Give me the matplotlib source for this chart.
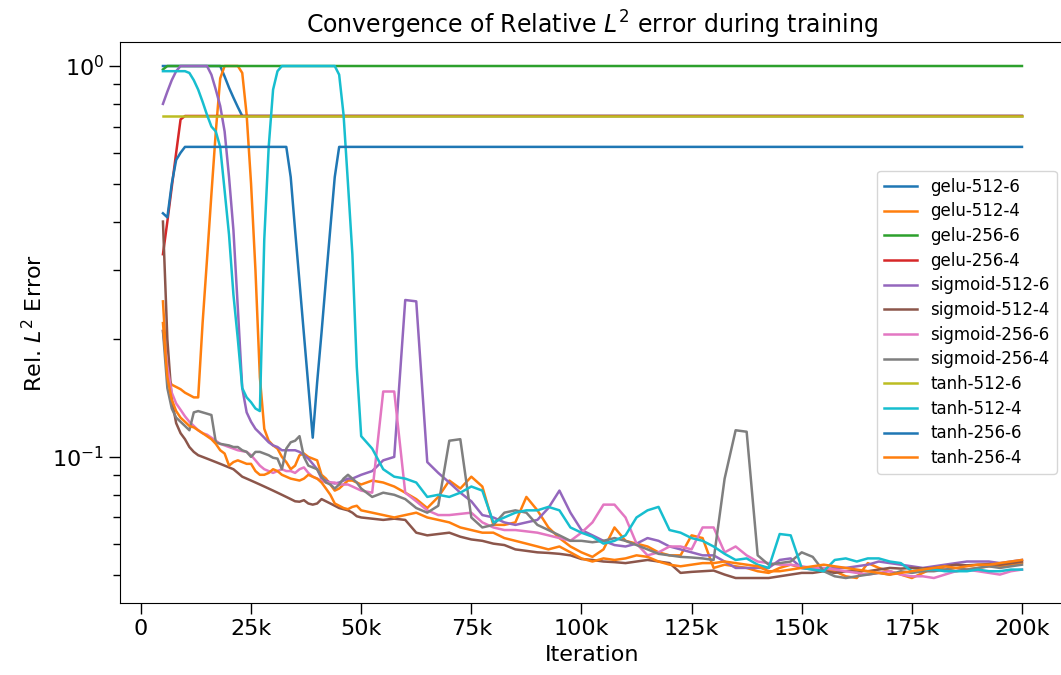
import numpy as np
import matplotlib
matplotlib.use("Agg")
import matplotlib.pyplot as plt
from matplotlib.ticker import FuncFormatter

# iterations: every 1k up to 50k, then every 2.5k
iters = np.concatenate([np.arange(5000, 50001, 1000), np.arange(52500, 200001, 2500)])

labels = ["gelu-512-6", "gelu-512-4", "gelu-256-6", "gelu-256-4",
          "sigmoid-512-6", "sigmoid-512-4", "sigmoid-256-6", "sigmoid-256-4",
          "tanh-512-6", "tanh-512-4", "tanh-256-6", "tanh-256-4"]

# --- gelu ---
gelu_512_6 = [1.0] * 14 + [0.94, 0.88, 0.83, 0.785, 0.745] + [0.745] * 27 + [0.745] * 60

gelu_512_4_early = [0.25, 0.16, 0.153, 0.151, 0.149, 0.146, 0.144, 0.142, 0.142, 0.22,
                    0.32, 0.47, 0.68, 0.93, 1.0, 1.0, 1.0, 1.0, 0.96, 0.75,
                    0.50, 0.30, 0.16, 0.118, 0.11, 0.107, 0.105, 0.10, 0.097, 0.093,
                    0.095, 0.101, 0.102, 0.10, 0.099, 0.098, 0.09, 0.088, 0.085, 0.082,
                    0.083, 0.085, 0.087, 0.087, 0.086, 0.085]
gelu_512_4_late = [0.087, 0.086, 0.084, 0.081, 0.078, 0.074, 0.079, 0.087, 0.083, 0.089,
                   0.084, 0.067, 0.067, 0.068, 0.079, 0.073, 0.066, 0.062, 0.059, 0.057,
                   0.0555, 0.058, 0.066, 0.061, 0.060, 0.059, 0.057, 0.056, 0.056, 0.063,
                   0.062, 0.052, 0.053, 0.0525, 0.052, 0.051, 0.0505, 0.052, 0.053, 0.052,
                   0.052, 0.0515, 0.051, 0.0495, 0.049, 0.0535, 0.052, 0.051, 0.050, 0.049,
                   0.0505, 0.052, 0.0515, 0.051, 0.0515, 0.052, 0.0525, 0.0525, 0.053, 0.0535]

gelu_256_6 = [0.98] + [1.0] * 45 + [1.0] * 60

gelu_256_4 = [0.33, 0.40, 0.49, 0.60, 0.73] + [0.745] * 41 + [0.745] * 60

# --- sigmoid ---
sig_512_6_early = [0.80, 0.86, 0.92, 0.97, 1.0, 1.0, 1.0, 1.0, 1.0, 1.0,
                   1.0, 0.95, 0.87, 0.79, 0.68, 0.52, 0.38, 0.24, 0.15, 0.13,
                   0.123, 0.118, 0.115, 0.112, 0.109, 0.107, 0.106, 0.104, 0.104, 0.104,
                   0.104, 0.103, 0.101, 0.099, 0.096, 0.093, 0.088, 0.087, 0.086, 0.0855,
                   0.086, 0.087, 0.088, 0.088, 0.089, 0.090]
sig_512_6_late = [0.092, 0.098, 0.100, 0.252, 0.25, 0.097, 0.091, 0.086, 0.081, 0.077,
                  0.071, 0.070, 0.068, 0.067, 0.068, 0.069, 0.074, 0.082, 0.072, 0.065,
                  0.063, 0.061, 0.0595, 0.059, 0.060, 0.062, 0.061, 0.059, 0.058, 0.057,
                  0.056, 0.056, 0.054, 0.052, 0.052, 0.052, 0.052, 0.0545, 0.055, 0.052,
                  0.0515, 0.0515, 0.052, 0.052, 0.0525, 0.053, 0.054, 0.0535, 0.053, 0.0525,
                  0.052, 0.0525, 0.053, 0.0535, 0.054, 0.054, 0.054, 0.0535, 0.054, 0.0545]

sig_512_4_early = [0.40, 0.20, 0.14, 0.122, 0.115, 0.111, 0.106, 0.103, 0.101, 0.100,
                   0.099, 0.098, 0.097, 0.096, 0.095, 0.094, 0.093, 0.091, 0.089, 0.088,
                   0.087, 0.086, 0.085, 0.084, 0.083, 0.082, 0.081, 0.080, 0.079, 0.078,
                   0.077, 0.0768, 0.0775, 0.076, 0.0755, 0.076, 0.078, 0.077, 0.076, 0.075,
                   0.074, 0.0735, 0.073, 0.072, 0.0705, 0.070]
sig_512_4_late = [0.0695, 0.069, 0.0695, 0.069, 0.064, 0.063, 0.0635, 0.064, 0.0625, 0.0615,
                  0.061, 0.060, 0.0595, 0.058, 0.0575, 0.057, 0.0568, 0.0565, 0.056, 0.0548,
                  0.0545, 0.054, 0.0538, 0.0535, 0.054, 0.0545, 0.054, 0.0535, 0.0505, 0.0508,
                  0.051, 0.0512, 0.050, 0.049, 0.049, 0.049, 0.049, 0.0495, 0.050, 0.0505,
                  0.0505, 0.051, 0.0505, 0.051, 0.0512, 0.051, 0.0515, 0.052, 0.0518, 0.052,
                  0.0518, 0.052, 0.0525, 0.053, 0.0528, 0.053, 0.0532, 0.053, 0.0535, 0.054]

sig_256_6_early = [0.21, 0.17, 0.146, 0.137, 0.132, 0.127, 0.123, 0.12, 0.117, 0.115,
                   0.114, 0.112, 0.110, 0.108, 0.107, 0.106, 0.105, 0.104, 0.1035, 0.103,
                   0.101, 0.098, 0.095, 0.093, 0.092, 0.091, 0.092, 0.093, 0.092, 0.092,
                   0.091, 0.093, 0.094, 0.091, 0.089, 0.088, 0.087, 0.086, 0.086, 0.086,
                   0.085, 0.085, 0.085, 0.084, 0.083, 0.082]
sig_256_6_late = [0.081, 0.147, 0.147, 0.081, 0.077, 0.073, 0.071, 0.071, 0.0715, 0.072,
                  0.068, 0.066, 0.065, 0.065, 0.0645, 0.064, 0.063, 0.062, 0.061, 0.064,
                  0.068, 0.0755, 0.0755, 0.070, 0.060, 0.056, 0.057, 0.059, 0.059, 0.058,
                  0.066, 0.066, 0.057, 0.059, 0.056, 0.054, 0.0535, 0.053, 0.053, 0.0525,
                  0.052, 0.052, 0.0515, 0.051, 0.0505, 0.050, 0.0505, 0.051, 0.050, 0.0495,
                  0.0495, 0.049, 0.050, 0.051, 0.0515, 0.051, 0.0505, 0.050, 0.051, 0.0515]

sig_256_4_early = [0.21, 0.15, 0.133, 0.126, 0.123, 0.12, 0.117, 0.13, 0.131, 0.13,
                   0.129, 0.128, 0.109, 0.108, 0.1075, 0.107, 0.106, 0.106, 0.104, 0.103,
                   0.100, 0.103, 0.103, 0.102, 0.101, 0.0995, 0.099, 0.093, 0.105, 0.109,
                   0.110, 0.113, 0.100, 0.095, 0.094, 0.093, 0.089, 0.086, 0.085, 0.083,
                   0.085, 0.088, 0.090, 0.088, 0.086, 0.083]
sig_256_4_late = [0.079, 0.081, 0.080, 0.078, 0.074, 0.072, 0.075, 0.110, 0.111, 0.070,
                  0.066, 0.067, 0.072, 0.073, 0.072, 0.067, 0.065, 0.063, 0.061, 0.061,
                  0.0605, 0.061, 0.062, 0.061, 0.0595, 0.058, 0.0565, 0.056, 0.0555, 0.0553,
                  0.055, 0.0545, 0.088, 0.117, 0.116, 0.056, 0.053, 0.0535, 0.054, 0.057,
                  0.0555, 0.051, 0.0495, 0.049, 0.0495, 0.050, 0.0505, 0.050, 0.051, 0.0505,
                  0.051, 0.051, 0.0515, 0.052, 0.0515, 0.052, 0.0525, 0.052, 0.0525, 0.053]

# --- tanh ---
tanh_512_6 = [0.745] * 46 + [0.745] * 60

tanh_512_4_early = [0.97, 0.97, 0.97, 0.97, 0.97, 0.97, 0.96, 0.92, 0.87, 0.81,
                    0.75, 0.70, 0.68, 0.62, 0.48, 0.37, 0.26, 0.20, 0.15, 0.142,
                    0.138, 0.133, 0.131, 0.36, 0.62, 0.87, 0.97, 1.0, 1.0, 1.0,
                    1.0, 1.0, 1.0, 1.0, 1.0, 1.0, 1.0, 1.0, 1.0, 1.0,
                    0.95, 0.75, 0.50, 0.33, 0.17, 0.113]
tanh_512_4_late = [0.105, 0.093, 0.089, 0.088, 0.086, 0.079, 0.080, 0.079, 0.081, 0.084,
                   0.082, 0.068, 0.070, 0.072, 0.073, 0.073, 0.0745, 0.073, 0.066, 0.064,
                   0.0625, 0.060, 0.061, 0.063, 0.070, 0.073, 0.0745, 0.065, 0.064, 0.062,
                   0.061, 0.059, 0.0565, 0.0545, 0.055, 0.053, 0.052, 0.0635, 0.063, 0.052,
                   0.0515, 0.051, 0.0545, 0.055, 0.054, 0.055, 0.055, 0.054, 0.0535, 0.051,
                   0.0515, 0.0515, 0.051, 0.051, 0.051, 0.0515, 0.051, 0.051, 0.0515, 0.0515]

tanh_256_6 = ([0.42, 0.41, 0.50, 0.575, 0.60] + [0.621] * 24
              + [0.52, 0.38, 0.28, 0.206, 0.152, 0.112, 0.155, 0.208, 0.284, 0.385, 0.52]
              + [0.621] * 6 + [0.621] * 60)

tanh_256_4_early = [0.22, 0.16, 0.14, 0.131, 0.126, 0.123, 0.12, 0.119, 0.117, 0.115,
                    0.113, 0.111, 0.108, 0.104, 0.102, 0.095, 0.097, 0.098, 0.097, 0.096,
                    0.096, 0.092, 0.090, 0.090, 0.091, 0.093, 0.092, 0.090, 0.089, 0.088,
                    0.0875, 0.087, 0.088, 0.090, 0.089, 0.088, 0.086, 0.083, 0.080, 0.076,
                    0.075, 0.074, 0.0735, 0.0745, 0.075, 0.073]
tanh_256_4_late = [0.072, 0.071, 0.070, 0.071, 0.072, 0.070, 0.069, 0.068, 0.066, 0.065,
                   0.064, 0.064, 0.062, 0.061, 0.060, 0.059, 0.058, 0.059, 0.057, 0.055,
                   0.054, 0.055, 0.0545, 0.055, 0.056, 0.0555, 0.054, 0.053, 0.0525, 0.053,
                   0.0535, 0.0535, 0.054, 0.0535, 0.053, 0.0525, 0.051, 0.051, 0.0515, 0.052,
                   0.0525, 0.053, 0.0525, 0.052, 0.0515, 0.051, 0.0505, 0.050, 0.0505, 0.051,
                   0.0515, 0.052, 0.0525, 0.052, 0.0525, 0.053, 0.053, 0.0535, 0.054, 0.0545]

series = [gelu_512_6,
          gelu_512_4_early + gelu_512_4_late,
          gelu_256_6,
          gelu_256_4,
          sig_512_6_early + sig_512_6_late,
          sig_512_4_early + sig_512_4_late,
          sig_256_6_early + sig_256_6_late,
          sig_256_4_early + sig_256_4_late,
          tanh_512_6,
          tanh_512_4_early + tanh_512_4_late,
          tanh_256_6,
          tanh_256_4_early + tanh_256_4_late]

colors = ["C0", "C1", "C2", "C3", "C4", "C5", "C6", "C7", "C8", "C9", "C0", "C1"]

fig = plt.figure(figsize=(10.61, 6.75), dpi=100)
ax = fig.add_axes([0.1131, 0.1067, 0.8906, 0.8311])

for lab, vals, c in zip(labels, series, colors):
    assert len(vals) == len(iters), lab
    ax.plot(iters, vals, color=c, lw=1.8, label=lab)

ax.set_yscale("log")
ax.set_xlim(-4750, 209750)
ax.set_ylim(0.0423, 1.152)
ax.set_xticks(np.arange(0, 200001, 25000))
ax.xaxis.set_major_formatter(FuncFormatter(lambda v, p: "0" if v == 0 else "%dk" % (v / 1000)))

ax.tick_params(axis="both", which="major", labelsize=16, length=8, width=1)
ax.tick_params(axis="y", which="minor", length=5, width=1)

ax.set_xlabel("Iteration", fontsize=16)
ax.set_ylabel("Rel. $L^2$ Error", fontsize=16)
ax.set_title("Convergence of Relative $L^2$ error during training", fontsize=17)

ax.legend(loc="center right", fontsize=12, labelspacing=0.4, handlelength=2.0)

fig.savefig("out.png", dpi=100)
